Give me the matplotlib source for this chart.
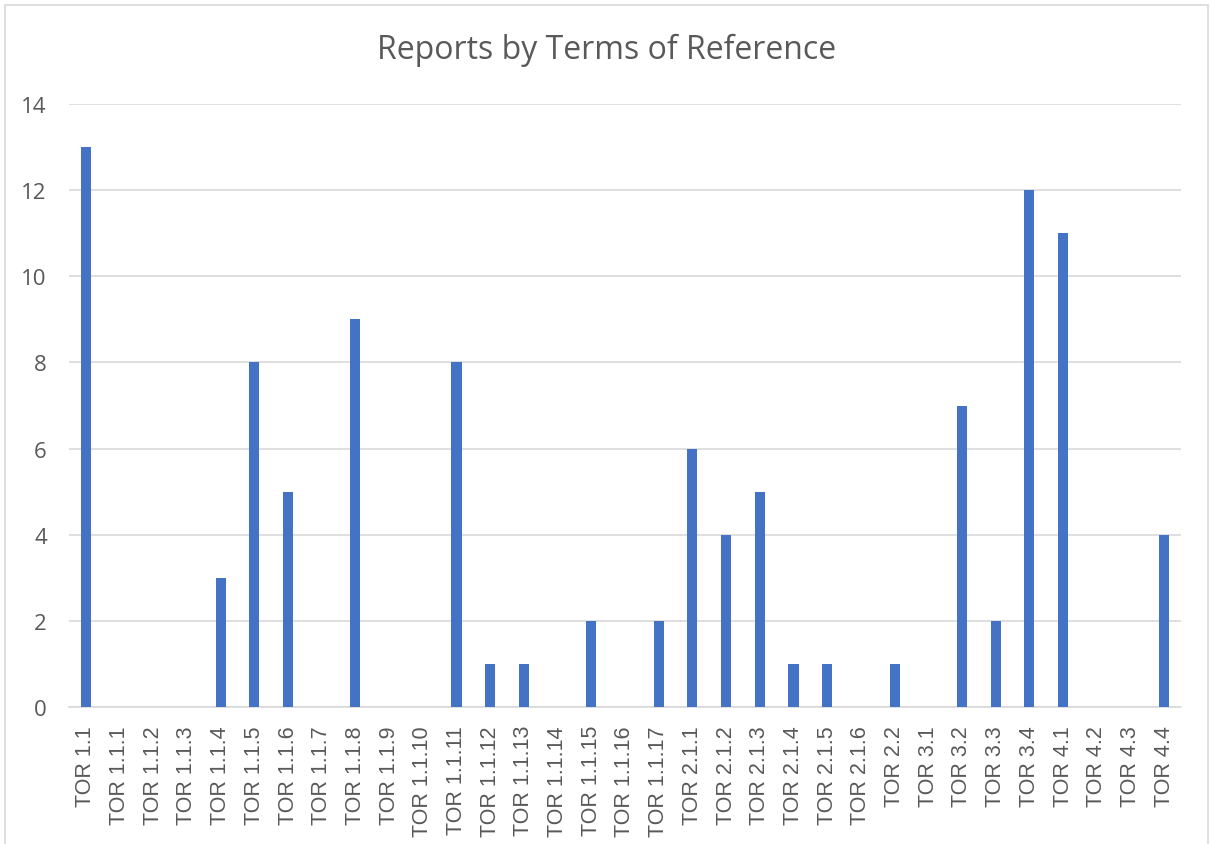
import numpy as np
import matplotlib.pyplot as plt
from matplotlib.patches import Rectangle

categories = ["TOR 1.1", "TOR 1.1.1", "TOR 1.1.2", "TOR 1.1.3", "TOR 1.1.4", "TOR 1.1.5",
              "TOR 1.1.6", "TOR 1.1.7", "TOR 1.1.8", "TOR 1.1.9", "TOR 1.1.10", "TOR 1.1.11",
              "TOR 1.1.12", "TOR 1.1.13", "TOR 1.1.14", "TOR 1.1.15", "TOR 1.1.16", "TOR 1.1.17",
              "TOR 2.1.1", "TOR 2.1.2", "TOR 2.1.3", "TOR 2.1.4", "TOR 2.1.5", "TOR 2.1.6",
              "TOR 2.2", "TOR 3.1", "TOR 3.2", "TOR 3.3", "TOR 3.4", "TOR 4.1", "TOR 4.2",
              "TOR 4.3", "TOR 4.4"]
reports = [13, 0, 0, 0, 3, 8, 5, 0, 9, 0, 0, 8, 1, 1, 0, 2, 0, 2, 6, 4, 5, 1, 1, 0, 1, 0,
           7, 2, 12, 11, 0, 0, 4]
yticks = [0, 2, 4, 6, 8, 10, 12, 14]

plt.rcParams["font.family"] = ["Open Sans", "DejaVu Sans"]
textColor = "#595959"
barColor = "#4472c4"
gridColor = "#d9d9d9"

W, H = 1214, 845
fig = plt.figure(figsize=(W / 100, H / 100), dpi=100)
ax = fig.add_axes([69 / W, 1 - 708 / H, (1181 - 69) / W, (708 - 105) / H])

x = np.arange(len(categories))
ax.bar(x, reports, width=0.3, color=barColor, zorder=3)

ax.set_xlim(-0.5, len(categories) - 0.5)
ax.set_ylim(0, 14)
ax.set_yticks(yticks)
ax.set_yticklabels([str(v) for v in yticks], fontsize=16, color=textColor)
ax.set_xticks(x)
ax.set_xticklabels(categories, rotation=90, fontsize=15.5, color=textColor,
                   family=["Liberation Sans", "DejaVu Sans"])
ax.tick_params(axis="both", length=0)
ax.tick_params(axis="x", pad=13)
ax.tick_params(axis="y", pad=16)

ax.grid(axis="y", color=gridColor, linewidth=1.2, zorder=0)
for side in ["top", "right", "left"]:
    ax.spines[side].set_visible(False)
ax.spines["bottom"].set_color(gridColor)
ax.spines["bottom"].set_linewidth(1.2)

fig.text(0.5, 1 - 50 / H, "Reports by Terms of Reference", ha="center", va="center",
         fontsize=23, color=textColor)

fig.patches.append(Rectangle((5 / W, -0.1), (1208 - 5) / W, 1.1 - 6 / H,
                             transform=fig.transFigure, fill=False,
                             edgecolor=gridColor, linewidth=1.2))

fig.savefig("out.png", dpi=100)
